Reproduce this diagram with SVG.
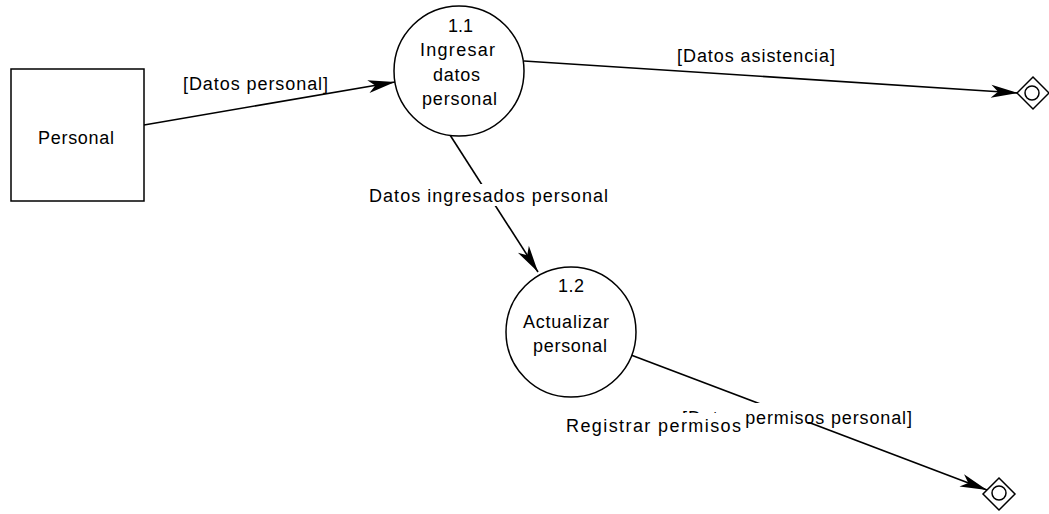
<svg xmlns="http://www.w3.org/2000/svg" width="1049" height="514" viewBox="0 0 1049 514">
<style>
.shape{fill:#fff;stroke:#000;stroke-width:1.5}
.flow{fill:none;stroke:#000;stroke-width:1.6}
text{font-family:"Liberation Sans",Arial,sans-serif;font-size:18px;fill:#000}
.c{text-anchor:middle}
.bg{fill:#fff;stroke:none}
</style>
<defs>
<marker id="arr" markerUnits="userSpaceOnUse" viewBox="-28 -8 30 16" refX="0" refY="0" markerWidth="30" markerHeight="16" orient="auto">
<path d="M0,0 L-27,-6.5 L-20,0 L-27,6.5 Z" fill="#000"/>
</marker>
</defs>
<rect width="1049" height="514" fill="#fff"/>
<g id="connectors">
<line class="flow" x1="144" y1="125" x2="395" y2="82" marker-end="url(#arr)"/>
<line class="flow" x1="524" y1="61" x2="1018" y2="93" marker-end="url(#arr)"/>
<line class="flow" x1="450" y1="135" x2="538" y2="272" marker-end="url(#arr)"/>
<line class="flow" x1="631" y1="355" x2="987" y2="490" marker-end="url(#arr)"/>
<text class="c" x="255.5" y="90" textLength="145" lengthAdjust="spacing">[Datos personal]</text>
<text class="c" x="756" y="62" textLength="158" lengthAdjust="spacing">[Datos asistencia]</text>
<rect class="bg" x="366" y="184" width="245" height="22"/>
<text class="c" x="488.5" y="202" textLength="239" lengthAdjust="spacing">Datos ingresados personal</text>
<rect class="bg" x="679" y="403" width="236" height="19"/>
<text x="682" y="424" textLength="230" lengthAdjust="spacing">[Datos permisos personal]</text>
<rect class="bg" x="563" y="413" width="182" height="25"/>
<text x="566" y="432" textLength="175" lengthAdjust="spacing">Registrar permisos</text>
</g>
<g id="personal">
<rect class="shape" x="11" y="69" width="133" height="132"/>
<text class="c" x="76" y="144" textLength="76" lengthAdjust="spacing">Personal</text>
</g>
<g id="p1_1">
<circle class="shape" cx="459" cy="71" r="65"/>
<text class="c" x="460.5" y="32" textLength="25" lengthAdjust="spacing">1.1</text>
<text class="c" x="457.5" y="56" textLength="75" lengthAdjust="spacing">Ingresar</text>
<text class="c" x="456.5" y="81" textLength="47" lengthAdjust="spacing">datos</text>
<text class="c" x="459.5" y="105" textLength="75" lengthAdjust="spacing">personal</text>
</g>
<g id="p1_2">
<circle class="shape" cx="571" cy="332" r="65"/>
<text class="c" x="571" y="292" textLength="26" lengthAdjust="spacing">1.2</text>
<text class="c" x="566" y="328" textLength="86" lengthAdjust="spacing">Actualizar</text>
<text class="c" x="570" y="352" textLength="74" lengthAdjust="spacing">personal</text>
</g>
<g id="store1">
<path class="shape" d="M1033,77 L1049,93 L1033,109 L1017,93 Z"/>
<circle class="shape" cx="1032" cy="93" r="7"/>
</g>
<g id="store2">
<path class="shape" d="M999,478 L1015,494 L999,510 L983,494 Z"/>
<circle class="shape" cx="999" cy="493" r="7"/>
</g>
</svg>
